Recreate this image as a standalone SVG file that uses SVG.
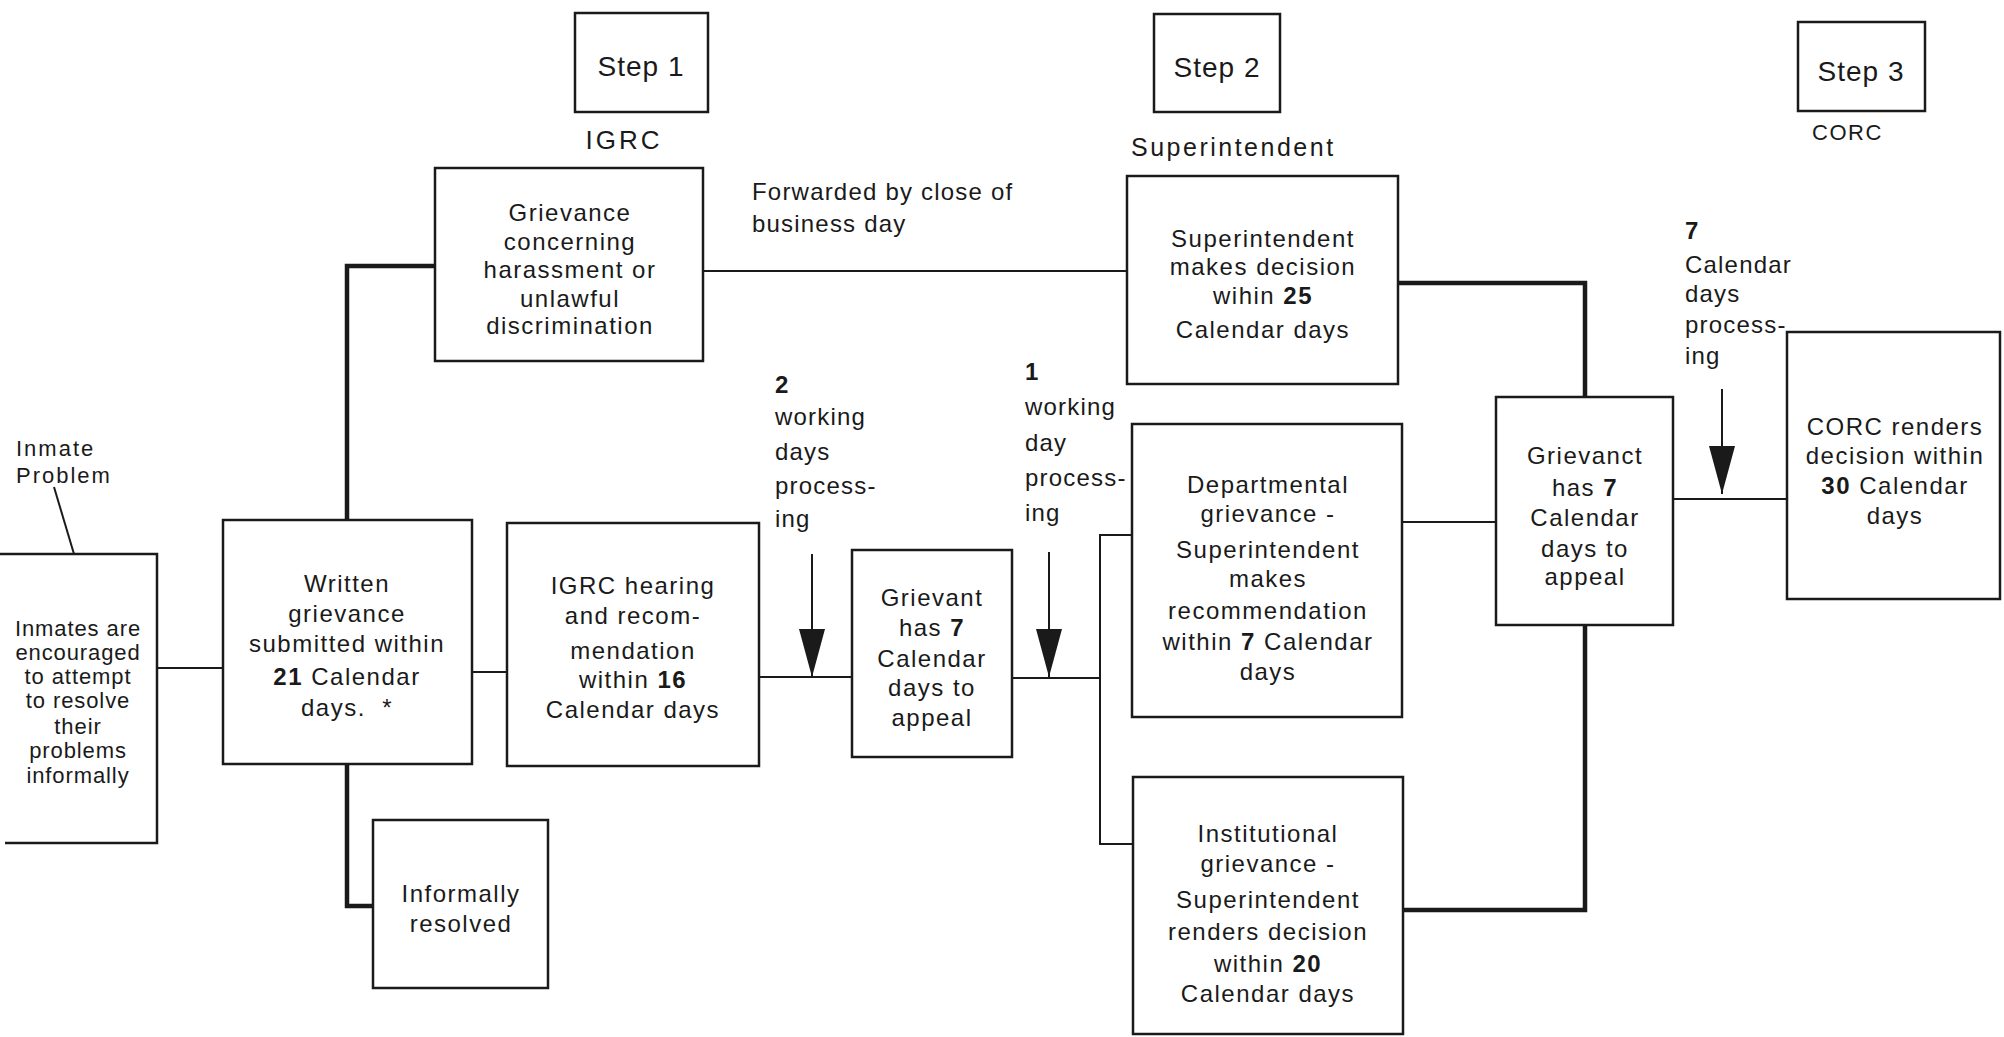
<svg xmlns="http://www.w3.org/2000/svg" width="2004" height="1037" viewBox="0 0 2004 1037">
<style>
  .box { fill: none; stroke: #1a1a1a; stroke-width: 2.5; }
  .thin { fill: none; stroke: #1a1a1a; stroke-width: 2; }
  .heavy { fill: none; stroke: #1a1a1a; stroke-width: 4.5; }
  text { font-family: "Liberation Sans", Arial, sans-serif; fill: #1a1a1a; }
  .t { font-size: 24px; letter-spacing: 1.5px; text-anchor: middle; }
  .tl { font-size: 24px; letter-spacing: 1.2px; }
  .step { font-size: 28px; letter-spacing: 1px; text-anchor: middle; }
  .small { font-size: 22px; letter-spacing: 0.9px; text-anchor: middle; }
  .b { font-weight: bold; }
</style>
<defs>
  <marker id="head" markerUnits="userSpaceOnUse" viewBox="0 0 48 26" refX="48" refY="13" markerWidth="48" markerHeight="26" orient="auto">
    <path d="M0,0 L48,13 L0,26 Z" fill="#1a1a1a"/>
  </marker>
</defs>
<rect x="0" y="0" width="2004" height="1037" fill="#ffffff"/>

<g id="connectors">
  <line class="thin" x1="54" y1="487" x2="74" y2="554"/>
  <line class="thin" x1="157" y1="668" x2="223" y2="668"/>
  <line class="thin" x1="472" y1="672" x2="507" y2="672"/>
  <polyline class="heavy" points="347,520 347,266 435,266"/>
  <polyline class="heavy" points="347,764 347,906 373,906"/>
  <line class="thin" x1="703" y1="271" x2="1127" y2="271"/>
  <line class="thin" x1="759" y1="677" x2="852" y2="677"/>
  <line class="thin" x1="1012" y1="678" x2="1100" y2="678"/>
  <polyline class="thin" points="1132,535 1100,535 1100,844 1133,844"/>
  <polyline class="heavy" points="1398,283 1585,283 1585,397"/>
  <polyline class="heavy" points="1585,625 1585,910 1403,910"/>
  <line class="thin" x1="1402" y1="522" x2="1496" y2="522"/>
  <line class="thin" x1="1673" y1="499" x2="1787" y2="499"/>
  <line class="thin" x1="812" y1="554" x2="812" y2="677" marker-end="url(#head)"/>
  <line class="thin" x1="1049" y1="552" x2="1049" y2="677" marker-end="url(#head)"/>
  <line class="thin" x1="1722" y1="389" x2="1722" y2="494" marker-end="url(#head)"/>
</g>

<g id="step1">
  <rect class="box" x="575" y="13" width="133" height="99"/>
  <text class="step" x="641" y="76">Step 1</text>
</g>
<g id="step2">
  <rect class="box" x="1154" y="14" width="126" height="98"/>
  <text class="step" x="1217" y="77">Step 2</text>
</g>
<g id="step3">
  <rect class="box" x="1798" y="22" width="127" height="89"/>
  <text class="step" x="1861" y="81">Step 3</text>
</g>

<g id="labels">
  <text x="624" y="149" style="font-size:26px;letter-spacing:3px;text-anchor:middle">IGRC</text>
  <text x="1131" y="156" style="font-size:25px;letter-spacing:2.5px">Superintendent</text>
  <text x="1812" y="140" style="font-size:22px;letter-spacing:1.5px">CORC</text>
  <text x="16" y="456" style="font-size:22px;letter-spacing:2px">Inmate</text>
  <text x="16" y="483" style="font-size:22px;letter-spacing:2px">Problem</text>
  <text class="tl"><tspan x="752" y="200">Forwarded by close of</tspan><tspan x="752" y="232">business day</tspan></text>
  <text class="tl"><tspan x="775" y="393" class="b">2</tspan><tspan x="775" y="425">working</tspan><tspan x="775" y="460">days</tspan><tspan x="775" y="494">process-</tspan><tspan x="775" y="527">ing</tspan></text>
  <text class="tl"><tspan x="1025" y="380" class="b">1</tspan><tspan x="1025" y="415">working</tspan><tspan x="1025" y="451">day</tspan><tspan x="1025" y="486">process-</tspan><tspan x="1025" y="521">ing</tspan></text>
  <text class="tl"><tspan x="1685" y="239" class="b">7</tspan><tspan x="1685" y="273">Calendar</tspan><tspan x="1685" y="302">days</tspan><tspan x="1685" y="333">process-</tspan><tspan x="1685" y="364">ing</tspan></text>
</g>

<g id="inmates">
  <path class="box" d="M0,554 H157 V843 H5"/>
  <text class="small"><tspan x="78" y="636">Inmates are</tspan><tspan x="78" y="660">encouraged</tspan><tspan x="78" y="684">to attempt</tspan><tspan x="78" y="708">to resolve</tspan><tspan x="78" y="734">their</tspan><tspan x="78" y="758">problems</tspan><tspan x="78" y="783">informally</tspan></text>
</g>

<g id="written">
  <rect class="box" x="223" y="520" width="249" height="244"/>
  <text class="t" xml:space="preserve"><tspan x="347" y="592">Written</tspan><tspan x="347" y="622">grievance</tspan><tspan x="347" y="652">submitted within</tspan><tspan x="347" y="685"><tspan class="b">21</tspan> Calendar</tspan><tspan x="347" y="716">days.  *</tspan></text>
</g>

<g id="harassment">
  <rect class="box" x="435" y="168" width="268" height="193"/>
  <text class="t"><tspan x="570" y="221">Grievance</tspan><tspan x="570" y="250">concerning</tspan><tspan x="570" y="278">harassment or</tspan><tspan x="570" y="307">unlawful</tspan><tspan x="570" y="334">discrimination</tspan></text>
</g>

<g id="informally">
  <rect class="box" x="373" y="820" width="175" height="168"/>
  <text class="t"><tspan x="461" y="902">Informally</tspan><tspan x="461" y="932">resolved</tspan></text>
</g>

<g id="igrc-hearing">
  <rect class="box" x="507" y="523" width="252" height="243"/>
  <text class="t"><tspan x="633" y="594">IGRC hearing</tspan><tspan x="633" y="624">and recom-</tspan><tspan x="633" y="659">mendation</tspan><tspan x="633" y="688">within <tspan class="b">16</tspan></tspan><tspan x="633" y="718">Calendar days</tspan></text>
</g>

<g id="grievant">
  <rect class="box" x="852" y="550" width="160" height="207"/>
  <text class="t"><tspan x="932" y="606">Grievant</tspan><tspan x="932" y="636">has <tspan class="b">7</tspan></tspan><tspan x="932" y="667">Calendar</tspan><tspan x="932" y="696">days to</tspan><tspan x="932" y="726">appeal</tspan></text>
</g>

<g id="superintendent-decision">
  <rect class="box" x="1127" y="176" width="271" height="208"/>
  <text class="t"><tspan x="1263" y="247">Superintendent</tspan><tspan x="1263" y="275">makes decision</tspan><tspan x="1263" y="304">wihin <tspan class="b">25</tspan></tspan><tspan x="1263" y="338">Calendar days</tspan></text>
</g>

<g id="departmental">
  <rect class="box" x="1132" y="424" width="270" height="293"/>
  <text class="t"><tspan x="1268" y="493">Departmental</tspan><tspan x="1268" y="522">grievance -</tspan><tspan x="1268" y="558">Superintendent</tspan><tspan x="1268" y="587">makes</tspan><tspan x="1268" y="619">recommendation</tspan><tspan x="1268" y="650">within <tspan class="b">7</tspan> Calendar</tspan><tspan x="1268" y="680">days</tspan></text>
</g>

<g id="institutional">
  <rect class="box" x="1133" y="777" width="270" height="257"/>
  <text class="t"><tspan x="1268" y="842">Institutional</tspan><tspan x="1268" y="872">grievance -</tspan><tspan x="1268" y="908">Superintendent</tspan><tspan x="1268" y="940">renders decision</tspan><tspan x="1268" y="972">within <tspan class="b">20</tspan></tspan><tspan x="1268" y="1002">Calendar days</tspan></text>
</g>

<g id="grievanct">
  <rect class="box" x="1496" y="397" width="177" height="228"/>
  <text class="t"><tspan x="1585" y="464">Grievanct</tspan><tspan x="1585" y="496">has <tspan class="b">7</tspan></tspan><tspan x="1585" y="526">Calendar</tspan><tspan x="1585" y="557">days to</tspan><tspan x="1585" y="585">appeal</tspan></text>
</g>

<g id="corc">
  <rect class="box" x="1787" y="332" width="213" height="267"/>
  <text class="t"><tspan x="1895" y="435">CORC renders</tspan><tspan x="1895" y="464">decision within</tspan><tspan x="1895" y="494"><tspan class="b">30</tspan> Calendar</tspan><tspan x="1895" y="524">days</tspan></text>
</g>
</svg>
